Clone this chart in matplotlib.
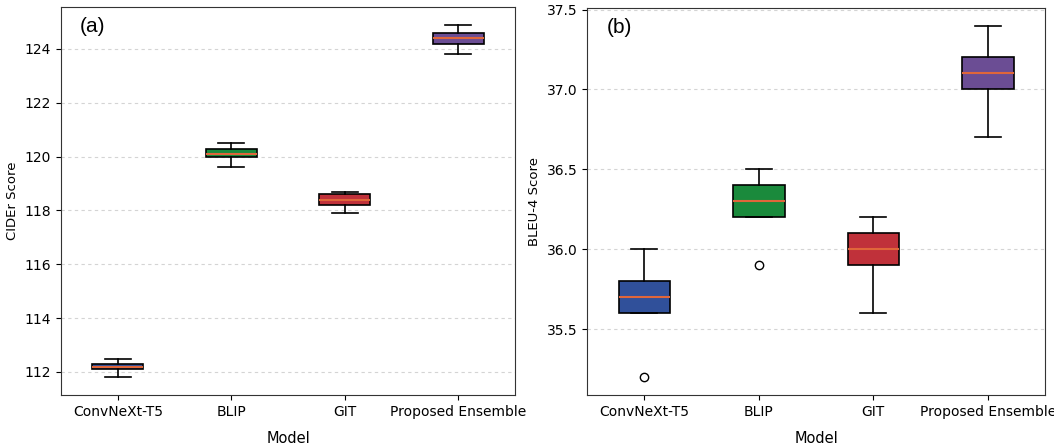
import matplotlib
matplotlib.use("Agg")
import matplotlib.pyplot as plt

# modeles compares
models = ["ConvNeXt-T5", "BLIP", "GIT", "Proposed Ensemble"]
colors = ["#30509a", "#1a8a3c", "#c0313a", "#6b4d94"]

# (a) CIDEr : moustache basse, Q1, mediane, Q3, moustache haute
cider_low = [111.8, 119.6, 117.9, 123.8]
cider_q1 = [112.1, 120.0, 118.2, 124.2]
cider_med = [112.2, 120.1, 118.4, 124.4]
cider_q3 = [112.3, 120.3, 118.6, 124.6]
cider_high = [112.5, 120.5, 118.7, 124.9]
cider_fliers = [[], [], [], []]

# (b) BLEU-4
bleu_low = [35.6, 36.2, 35.6, 36.7]
bleu_q1 = [35.6, 36.2, 35.9, 37.0]
bleu_med = [35.7, 36.3, 36.0, 37.1]
bleu_q3 = [35.8, 36.4, 36.1, 37.2]
bleu_high = [36.0, 36.5, 36.2, 37.4]
bleu_fliers = [[35.2], [35.9], [], []]


def make_stats(low, q1, med, q3, high, fliers):
	stats = []
	for i in range(len(models)):
		stats.append({"whislo": low[i], "q1": q1[i], "med": med[i], "q3": q3[i],
		              "whishi": high[i], "fliers": fliers[i], "label": models[i]})
	return stats


def draw_panel(ax, stats, ylabel, tag):
	bp = ax.bxp(stats, widths=0.45, patch_artist=True,
	            medianprops=dict(color="#e0663a", linewidth=1.5),
	            whiskerprops=dict(color="black", linewidth=1.2),
	            capprops=dict(color="black", linewidth=1.2),
	            flierprops=dict(marker="o", markerfacecolor="white",
	                            markeredgecolor="black", markersize=6))
	for patch, c in zip(bp["boxes"], colors):
		patch.set_facecolor(c)
		patch.set_edgecolor("black")
		patch.set_linewidth(1.2)
	ax.yaxis.grid(True, linestyle=(0, (3, 3)), color="#d4d4d4", linewidth=0.8)
	ax.set_axisbelow(True)
	ax.set_xlabel("Model", fontsize=10.5, labelpad=9)
	ax.set_ylabel(ylabel, fontsize=9.5)
	ax.tick_params(labelsize=10)
	for s in ax.spines.values():
		s.set_color("#333333")
	ax.text(0.042, 0.975, tag, transform=ax.transAxes, fontsize=15,
	        family="Liberation Sans", va="top")


fig = plt.figure(figsize=(10.54, 4.47), dpi=100)
ax1 = fig.add_axes([0.0579, 0.1163, 0.4307, 0.868])
ax2 = fig.add_axes([0.557, 0.1163, 0.4345, 0.866])

draw_panel(ax1, make_stats(cider_low, cider_q1, cider_med, cider_q3, cider_high, cider_fliers),
           "CIDEr Score", "(a)")
draw_panel(ax2, make_stats(bleu_low, bleu_q1, bleu_med, bleu_q3, bleu_high, bleu_fliers),
           "BLEU-4 Score", "(b)")

fig.savefig("out.png", dpi=100)
